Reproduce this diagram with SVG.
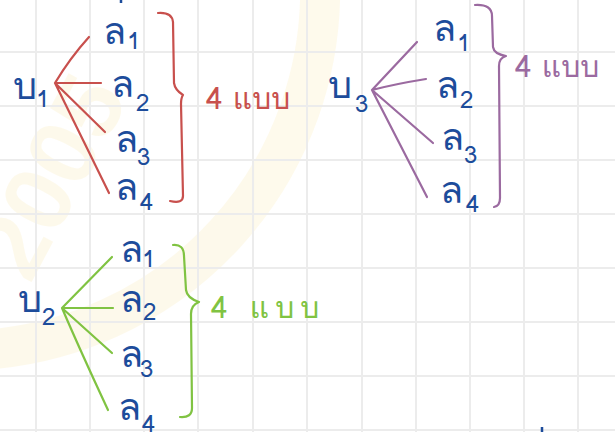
<svg xmlns="http://www.w3.org/2000/svg" width="615" height="432" viewBox="0 0 615 432">
<defs>
<style>
.grid line{stroke:#ececec;stroke-width:2}
.t{font-family:"Loma","Garuda","Norasi","Noto Sans Thai Looped","Noto Sans Thai","Noto Sans",sans-serif;fill:#1d4c9b}
.m{font-size:38px}
.s{font-size:24px}
.red{stroke:#c8504d}
.pur{stroke:#9b6aa0}
.grn{stroke:#80c342}
.ln{fill:none;stroke-width:2.2;stroke-linecap:round;stroke-linejoin:round}
.lbl{font-family:"Loma","Garuda","Norasi","Noto Sans Thai Looped","Noto Sans Thai","Noto Sans",sans-serif;font-size:30px}
</style>
</defs>
<rect width="615" height="432" fill="#ffffff"/>
<g id="watermark" opacity="0.3">
<path d="M 320 -20 A 360 360 0 0 1 -20 350" fill="none" stroke="#fbeec0" stroke-width="40"/>
<text x="0" y="0" transform="translate(30,285) rotate(-62)" font-family="Liberation Sans,sans-serif" font-weight="bold" font-size="95" fill="#fbeec0">2005</text>
</g>
<g class="grid">
<line x1="36" y1="0" x2="36" y2="432"/><line x1="90" y1="0" x2="90" y2="432"/><line x1="144" y1="0" x2="144" y2="432"/><line x1="198" y1="0" x2="198" y2="432"/><line x1="253" y1="0" x2="253" y2="432"/><line x1="307" y1="0" x2="307" y2="432"/><line x1="362" y1="0" x2="362" y2="432"/><line x1="416" y1="0" x2="416" y2="432"/><line x1="470" y1="0" x2="470" y2="432"/><line x1="524" y1="0" x2="524" y2="432"/><line x1="578" y1="0" x2="578" y2="432"/>
<line x1="0" y1="52" x2="615" y2="52"/><line x1="0" y1="106" x2="615" y2="106"/><line x1="0" y1="160" x2="615" y2="160"/><line x1="0" y1="214" x2="615" y2="214"/><line x1="0" y1="268" x2="615" y2="268"/><line x1="0" y1="322" x2="615" y2="322"/><line x1="0" y1="376" x2="615" y2="376"/><line x1="0" y1="430" x2="615" y2="430"/>
</g>
<g id="connectors">
<path class="ln red" d="M55 83 Q70 58 89 37 M55 83 L101 83 M55 83 L105 132 M55 83 L109 193"/>
<path class="ln red" d="M158 13 Q172 12 173 22 L174 83 Q175 90 183 95 Q181 98 181 104 L183 196 Q183 204 170 201"/>
<path class="ln pur" d="M372 90 L417 42 M372 90 Q395 84 426 79 M372 90 L433 143 M372 90 L427 197"/>
<path class="ln pur" d="M475 5 Q492 4 492 16 L493 47 Q494 54 506 56 Q499 58 499 66 L500 198 Q500 206 494 207"/>
<path class="ln grn" d="M62 308 L112 257 M62 308 L113 308 M62 308 L112 353 M62 308 Q80 350 108 410"/>
<path class="ln grn" d="M173 245 Q184 244 184 256 L186 290 Q187 298 199 302 Q191 305 191 314 L192 408 Q192 418 180 417"/>
<path d="M121 0 L121 3 M542 427 L542 432" stroke="#1d4c9b" stroke-width="2.5" fill="none"/>
</g>
<g id="b1"><text class="t m" x="13" y="99">บ</text><text class="t s" x="36" y="107">1</text></g>
<g id="t1-l1"><text class="t m" x="103" y="44">ล</text><text class="t s" x="127" y="49">1</text></g>
<g id="t1-l2"><text class="t m" x="111" y="97">ล</text><text class="t s" x="136" y="111">2</text></g>
<g id="t1-l3"><text class="t m" x="115" y="152">ล</text><text class="t s" x="137" y="165">3</text></g>
<g id="t1-l4"><text class="t m" x="115" y="200">ล</text><text class="t s" x="140" y="210">4</text></g>
<g id="t1-lbl"><text class="lbl" x="206" y="109" fill="#c8504d">4 แบบ</text></g>
<g id="b3"><text class="t m" x="328" y="98">บ</text><text class="t s" x="355" y="112">3</text></g>
<g id="t3-l1"><text class="t m" x="433" y="41">ล</text><text class="t s" x="457" y="51">1</text></g>
<g id="t3-l2"><text class="t m" x="436" y="98">ล</text><text class="t s" x="460" y="108">2</text></g>
<g id="t3-l3"><text class="t m" x="441" y="150">ล</text><text class="t s" x="464" y="163">3</text></g>
<g id="t3-l4"><text class="t m" x="440" y="203">ล</text><text class="t s" x="466" y="212">4</text></g>
<g id="t3-lbl"><text class="lbl" x="515" y="77" fill="#9b6aa0">4 แบบ</text></g>
<g id="b2"><text class="t m" x="18" y="312">บ</text><text class="t s" x="42" y="325">2</text></g>
<g id="t2-l1"><text class="t m" x="120" y="262">ล</text><text class="t s" x="142" y="267">1</text></g>
<g id="t2-l2"><text class="t m" x="120" y="312">ล</text><text class="t s" x="143" y="320">2</text></g>
<g id="t2-l3"><text class="t m" x="120" y="367">ล</text><text class="t s" x="140" y="377">3</text></g>
<g id="t2-l4"><text class="t m" x="118" y="420">ล</text><text class="t s" x="142" y="432">4</text></g>
<g id="t2-lbl"><text class="lbl" x="211" y="318" fill="#80c342" letter-spacing="6">4 แบบ</text></g>
</svg>
